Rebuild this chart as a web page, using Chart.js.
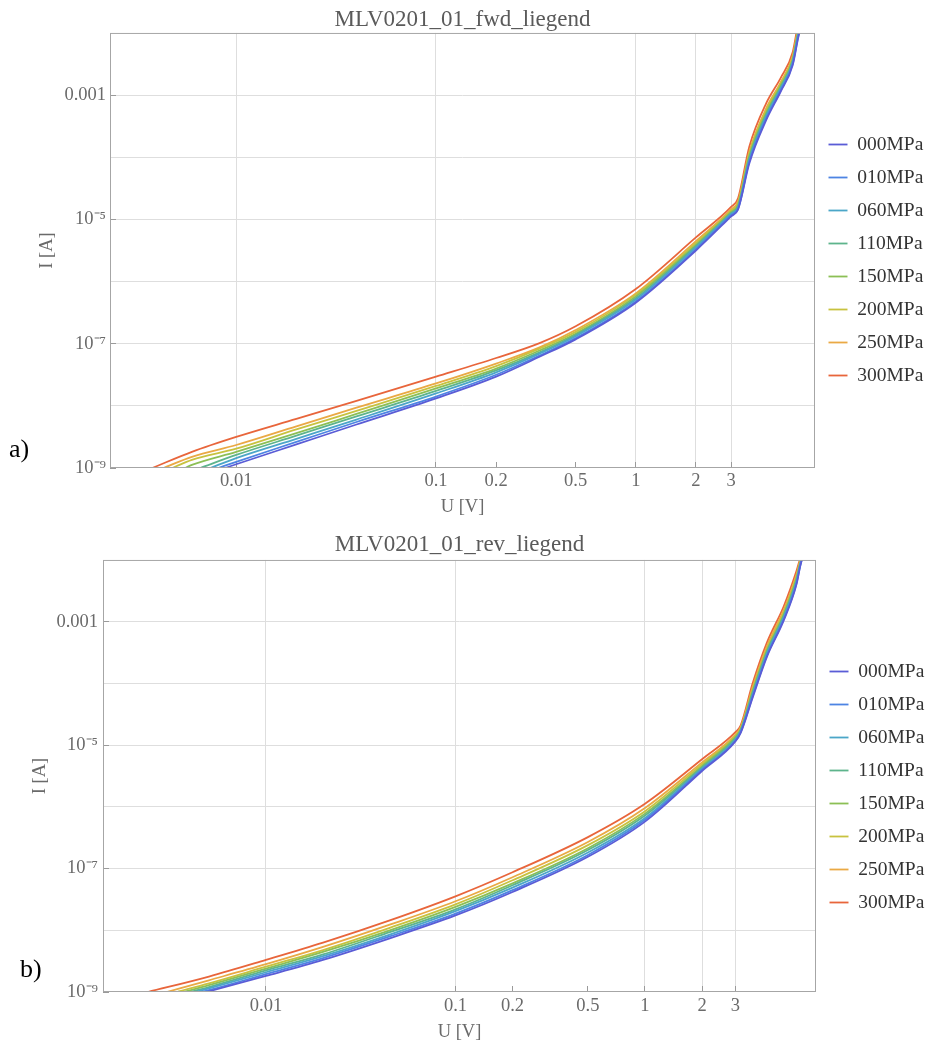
<!DOCTYPE html>
<html lang="en">
<head>
<meta charset="UTF-8">
<title>MLV0201_01 I-U curves</title>
<script src="https://cdn.jsdelivr.net/npm/chart.js"></script>
<style>
  body { margin: 0; background: #ffffff; font-family: "Liberation Serif", serif; }
  canvas { display: block; }
  .panel { position: absolute; left: 0; }
  #panelA { top: 0; }
  #panelB { top: 520px; }
  .tag { position: absolute; font-size: 26px; line-height: 1; color: #000; }
  #tagA { left: 9px; top: 436px; }
  #tagB { left: 20px; top: 956px; }
</style>
</head>
<body>
<div class="panel" id="panelA"><canvas id="fwdChart" width="930" height="520"></canvas></div>
<div class="panel" id="panelB"><canvas id="revChart" width="930" height="534"></canvas></div>
<div class="tag" id="tagA">a)</div>
<div class="tag" id="tagB">b)</div>

<script>
const seriesNames = ["000MPa", "010MPa", "060MPa", "110MPa", "150MPa", "200MPa", "250MPa", "300MPa"];
const seriesColors = ["#5a5cd6", "#4d84e3", "#4ba6c8", "#5db48c", "#8cbf55", "#c8c23f", "#eaa944", "#e8653b"];

// axis ticks
const uTicks = [0.01, 0.1, 0.2, 0.5, 1, 2, 3];
const uTickLabels = ["0.01", "0.1", "0.2", "0.5", "1", "2", "3"];
const uGridLine = [true, true, false, false, true, true, true];
const iTicks = [1e-9, 1e-8, 1e-7, 1e-6, 1e-5, 1e-4, 1e-3, 1e-2];
const iTickLabels = ["10⁻⁹", "", "10⁻⁷", "", "10⁻⁵", "", "0.001", ""];

// a) forward: U [V] grid, U where each curve leaves 1e-9 A, values are log10(I [A])
const fwdU = [0.006, 0.01, 0.02, 0.04, 0.1, 0.2, 0.33, 0.5, 1, 2, 3, 3.25, 3.7, 4.5, 5.3, 6.1, 6.5, 6.7];
const fwdStartU = [0.0088, 0.00813, 0.00741, 0.0066, 0.00556, 0.00479, 0.00432, 0.0038];
const fwd000 = [null, -8.94, -8.62, -8.30, -7.88, -7.53, -7.21, -6.93, -6.34, -5.50, -4.95, -4.84, -4.10, -3.40, -2.95, -2.52, -2.08, -1.90];
const fwd010 = [null, -8.90, -8.58, -8.26, -7.85, -7.50, -7.19, -6.91, -6.32, -5.48, -4.93, -4.83, -4.07, -3.37, -2.93, -2.50, -2.06, -1.88];
const fwd060 = [null, -8.84, -8.53, -8.22, -7.80, -7.46, -7.16, -6.88, -6.29, -5.45, -4.91, -4.81, -4.04, -3.34, -2.90, -2.47, -2.03, -1.86];
const fwd110 = [null, -8.79, -8.48, -8.17, -7.76, -7.43, -7.14, -6.86, -6.27, -5.43, -4.90, -4.79, -4.01, -3.31, -2.88, -2.45, -2.00, -1.83];
const fwd150 = [-8.95, -8.74, -8.44, -8.13, -7.72, -7.40, -7.11, -6.84, -6.24, -5.41, -4.88, -4.77, -3.98, -3.28, -2.85, -2.43, -1.98, -1.81];
const fwd200 = [-8.87, -8.69, -8.38, -8.08, -7.68, -7.36, -7.08, -6.81, -6.21, -5.38, -4.86, -4.74, -3.94, -3.24, -2.82, -2.40, -1.95, -1.78];
const fwd250 = [-8.82, -8.63, -8.33, -8.03, -7.64, -7.32, -7.06, -6.78, -6.19, -5.35, -4.84, -4.71, -3.91, -3.21, -2.80, -2.37, -1.92, -1.76];
const fwd300 = [-8.74, -8.50, -8.21, -7.92, -7.53, -7.23, -6.99, -6.72, -6.12, -5.29, -4.80, -4.66, -3.83, -3.13, -2.73, -2.31, -1.85, -1.70];

// b) reverse
const revU = [0.005, 0.01, 0.02, 0.045, 0.1, 0.2, 0.5, 1, 2, 3, 3.2, 3.7, 4.4, 5.4, 6.3, 6.6, 6.8];
const revStartU = [0.00485, 0.00458, 0.00422, 0.00397, 0.00366, 0.00338, 0.00299, 0.00238];
const rev000 = [null, -8.74, -8.48, -8.13, -7.76, -7.38, -6.81, -6.24, -5.42, -4.94, -4.80, -4.23, -3.57, -2.98, -2.40, -2.10, -1.95];
const rev010 = [-8.97, -8.71, -8.45, -8.10, -7.73, -7.35, -6.78, -6.21, -5.40, -4.93, -4.79, -4.21, -3.55, -2.96, -2.38, -2.09, -1.94];
const rev060 = [-8.94, -8.68, -8.42, -8.07, -7.69, -7.31, -6.74, -6.18, -5.38, -4.91, -4.77, -4.18, -3.52, -2.93, -2.35, -2.07, -1.93];
const rev110 = [-8.92, -8.65, -8.39, -8.03, -7.66, -7.27, -6.70, -6.14, -5.36, -4.89, -4.76, -4.15, -3.49, -2.90, -2.33, -2.06, -1.92];
const rev150 = [-8.89, -8.62, -8.35, -8.00, -7.62, -7.24, -6.67, -6.11, -5.34, -4.87, -4.75, -4.13, -3.47, -2.88, -2.30, -2.04, -1.91];
const rev200 = [-8.86, -8.59, -8.32, -7.96, -7.58, -7.19, -6.62, -6.07, -5.31, -4.85, -4.73, -4.10, -3.44, -2.85, -2.27, -2.03, -1.89];
const rev250 = [-8.81, -8.55, -8.27, -7.91, -7.53, -7.14, -6.57, -6.02, -5.28, -4.83, -4.71, -4.06, -3.40, -2.81, -2.24, -2.00, -1.88];
const rev300 = [-8.75, -8.48, -8.20, -7.84, -7.45, -7.06, -6.49, -5.95, -5.23, -4.79, -4.68, -4.00, -3.34, -2.75, -2.18, -1.97, -1.85];

const serif = "Liberation Serif";
const tickGray = "#6a6a6a";

// grey box round the plot area
const framePlugin = {
  id: "frame",
  afterDatasetsDraw(chart) {
    const { ctx, chartArea: a } = chart;
    ctx.save();
    ctx.strokeStyle = "#a6a6a6";
    ctx.lineWidth = 1;
    ctx.strokeRect(a.left + 0.5, a.top + 0.5, a.right - a.left - 1, a.bottom - a.top - 1);
    ctx.restore();
  },
};

function buildData(startU, u, logI) {
  const pts = [{ x: startU, y: 1e-9 }];
  u.forEach((x, k) => {
    if (logI[k] !== null) pts.push({ x: x, y: Math.pow(10, logI[k]) });
  });
  return pts;
}

function ivChart(canvasId, title, u, startU, series, g) {
  return new Chart(document.getElementById(canvasId), {
    type: "line",
    data: {
      datasets: series.map((s, i) => ({
        label: seriesNames[i],
        data: buildData(startU[i], u, s),
        borderColor: seriesColors[i],
        backgroundColor: seriesColors[i],
        borderWidth: 1.8,
        pointRadius: 0,
        cubicInterpolationMode: "monotone",
        fill: false,
      })),
    },
    options: {
      responsive: false,
      animation: false,
      events: [],
      layout: { padding: 0 },
      plugins: {
        title: {
          display: true,
          text: title,
          fullSize: false,
          color: "#5a5a5a",
          font: { family: serif, size: 23, weight: "normal", lineHeight: 1.15 },
          padding: g.titlePad,
        },
        legend: {
          position: "right",
          align: "center",
          maxWidth: g.legendW,
          labels: {
            usePointStyle: true,
            pointStyle: "line",
            pointStyleWidth: 19,
            padding: 13.5,
            color: "#333333",
            font: { family: serif, size: 19.5 },
          },
        },
        tooltip: { enabled: false },
      },
      scales: {
        x: {
          type: "logarithmic",
          position: "bottom",
          min: g.xMin,
          max: g.xMax,
          afterBuildTicks: (s) => { s.ticks = uTicks.map((v) => ({ value: v })); },
          afterFit: (s) => { s.height = g.xAxisH; },
          border: { display: false },
          grid: {
            color: (c) => (uGridLine[c.index] ? "#dedede" : "rgba(0,0,0,0)"),
            tickColor: "#9a9a9a",
            tickLength: -6,
          },
          ticks: {
            autoSkip: false,
            maxRotation: 0,
            padding: g.xTickPad,
            color: tickGray,
            font: { family: serif, size: 18.5 },
            callback: (v, i) => uTickLabels[i],
          },
          title: {
            display: true,
            text: "U [V]",
            color: tickGray,
            font: { family: serif, size: 18.5 },
            padding: { top: 0, bottom: g.xTitlePad },
          },
        },
        y: {
          type: "logarithmic",
          position: "left",
          min: 1e-9,
          max: 1e-2,
          afterBuildTicks: (s) => { s.ticks = iTicks.map((v) => ({ value: v })); },
          afterFit: (s) => { s.width = g.yAxisW; },
          border: { display: false },
          grid: {
            color: (c) => (c.index > 0 && c.index < iTicks.length - 1 ? "#dedede" : "rgba(0,0,0,0)"),
            tickColor: (c) => (iTickLabels[c.index] ? "#9a9a9a" : "rgba(0,0,0,0)"),
            tickLength: -6,
          },
          ticks: {
            autoSkip: false,
            padding: g.yTickPad,
            color: tickGray,
            font: { family: serif, size: 18.5 },
            callback: (v, i) => iTickLabels[i],
          },
          title: {
            display: true,
            text: "I [A]",
            color: tickGray,
            font: { family: serif, size: 18.5 },
            padding: { top: g.yTitlePad, bottom: 0 },
          },
        },
      },
    },
    plugins: [framePlugin],
  });
}

ivChart("fwdChart", "MLV0201_01_fwd_liegend", fwdU, fwdStartU,
  [fwd000, fwd010, fwd060, fwd110, fwd150, fwd200, fwd250, fwd300],
  { xMin: 0.002335, xMax: 7.89, xAxisH: 52, yAxisW: 110, legendW: 115,
    titlePad: { top: 6.5, bottom: 0 }, xTickPad: 8, xTitlePad: 2, yTickPad: 10, yTitlePad: 36 });

ivChart("revChart", "MLV0201_01_rev_liegend", revU, revStartU,
  [rev000, rev010, rev060, rev110, rev150, rev200, rev250, rev300],
  { xMin: 0.00138, xMax: 7.99, xAxisH: 62, yAxisW: 103, legendW: 114,
    titlePad: { top: 12, bottom: 1.5 }, xTickPad: 9, xTitlePad: 11, yTickPad: 11, yTitlePad: 29 });
</script>
</body>
</html>
